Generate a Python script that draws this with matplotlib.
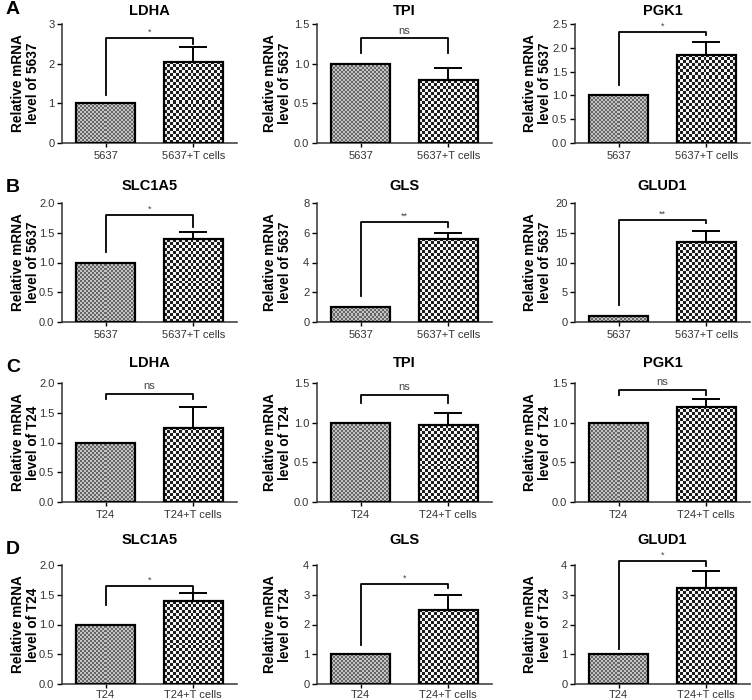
import numpy as np
import matplotlib
matplotlib.use("Agg")
import matplotlib.pyplot as plt
from matplotlib.colors import ListedColormap

plt.rcParams['font.family'] = ['Liberation Sans', 'DejaVu Sans']

# panel data, rows A-D, columns left to right
titles = [["LDHA", "TPI", "PGK1"],
          ["SLC1A5", "GLS", "GLUD1"],
          ["LDHA", "TPI", "PGK1"],
          ["SLC1A5", "GLS", "GLUD1"]]
row_letters = ["A", "B", "C", "D"]
cell_lines = ["5637", "5637", "T24", "T24"]

ctrl = [[1, 1, 1], [1, 1, 1], [1, 1, 1], [1, 1, 1]]
treated = [[2.05, 0.79, 1.85],
           [1.39, 5.58, 13.5],
           [1.25, 0.97, 1.20],
           [1.39, 2.50, 3.22]]
treated_err = [[0.37, 0.15, 0.27],
               [0.12, 0.42, 1.8],
               [0.34, 0.15, 0.10],
               [0.14, 0.50, 0.58]]
ymax = [[3, 1.5, 2.5], [2.0, 8, 20], [2.0, 1.5, 1.5], [2.0, 4, 4]]
ystep = [[1, 0.5, 0.5], [0.5, 2, 5], [0.5, 0.5, 0.5], [0.5, 1, 1]]
signif = [["*", "ns", "*"], ["*", "**", "**"], ["ns", "ns", "ns"], ["*", "*", "*"]]
# bracket: left end, top, right end
brackets = [[[1.21, 2.65, 2.5], [1.13, 1.32, 1.13], [1.22, 2.33, 2.27]],
            [[1.18, 1.80, 1.60], [1.75, 6.7, 6.37], [2.8, 17.1, 16.6]],
            [[1.73, 1.82, 1.73], [1.25, 1.35, 1.25], [1.35, 1.41, 1.35]],
            [[1.32, 1.64, 1.50], [1.30, 3.36, 3.22], [1.19, 4.12, 3.97]]]

W, H = 752, 700
fig = plt.figure(figsize=(W / 100, H / 100), dpi=100)

col_left = [62, 317, 575]
ylab_right = [40, 292, 552]
row_bottom = [143, 322, 502, 684]
title_pad = [6.5, 9.5, 11.5, 15]
ax_w, ax_h = 175, 119
letter_y = [10, 188, 368, 550]
bw = 0.67

cmap1 = ListedColormap(['#666666', '#c4c4c4'])
cmap2 = ListedColormap(['#1e1e1e', '#f6f6f6'])


def checker_fill(ax, xc, val, ytop, cmap, cell):
    # checkerboard pattern inside a bar, cell size in pixels
    wpx = bw * ax_w / 2.0
    hpx = val / ytop * ax_h
    nx = max(1, int(round(wpx / cell)))
    ny = max(1, int(round(hpx / cell)))
    ii, jj = np.indices((ny, nx))
    pat = (ii + jj) % 2
    ax.imshow(pat, extent=(xc - bw / 2, xc + bw / 2, 0, val), aspect='auto',
              interpolation='nearest', cmap=cmap, origin='lower', zorder=2)


for r in range(4):
    fig.text(6 / W, 1 - letter_y[r] / H, row_letters[r], fontsize=14,
             fontweight='bold', ha='left', va='center')
    for c in range(3):
        ax = fig.add_axes([col_left[c] / W, 1 - row_bottom[r] / H, ax_w / W, ax_h / H])
        x = np.array([0, 1])
        vals = [ctrl[r][c], treated[r][c]]
        checker_fill(ax, 0, vals[0], ymax[r][c], cmap1, 2)
        checker_fill(ax, 1, vals[1], ymax[r][c], cmap2, 3)
        ax.bar(x, vals, bw, fill=False, edgecolor='black', linewidth=1.6, zorder=3)
        ax.errorbar(x[1], vals[1], yerr=[[0], [treated_err[r][c]]], fmt='none',
                    ecolor='black', elinewidth=1.4, capsize=10.4, capthick=1.4, zorder=1)

        lo, top, ro = brackets[r][c]
        ax.plot([0, 0, 1, 1], [lo, top, top, ro], color='black', lw=1.3,
                clip_on=False, zorder=4)
        s = signif[r][c]
        ax.annotate(s, (0.5, top), xytext=(0, 2 if s == "ns" else 1),
                    textcoords='offset points', ha='center', va='bottom',
                    fontsize=8 if s == "ns" else 6.5, color='#444444',
                    annotation_clip=False)

        ax.set_xlim(-0.5, 1.5)
        ax.set_ylim(0, ymax[r][c])
        ticks = np.arange(0, ymax[r][c] + 1e-9, ystep[r][c])
        ax.set_yticks(ticks)
        if ystep[r][c] < 1:
            ax.set_yticklabels(["%.1f" % t for t in ticks])
        else:
            ax.set_yticklabels(["%d" % t for t in ticks])
        cl = cell_lines[r]
        ax.set_xticks(x)
        ax.set_xticklabels([cl, cl + "+T cells"])
        ax.tick_params(axis='both', labelsize=8, labelcolor='#333333',
                       length=3.5, width=1, direction='out', pad=2)
        ax.tick_params(axis='x', labelsize=8, length=3, pad=1.5 if r == 3 else 2.5)
        for sp in ['top', 'right']:
            ax.spines[sp].set_visible(False)
        for sp in ['left', 'bottom']:
            ax.spines[sp].set_linewidth(1.1)
            ax.spines[sp].set_color('#333333')

        ax.set_title(titles[r][c], fontsize=10.5, fontweight='bold', pad=title_pad[r])
        ax.set_ylabel("Relative mRNA\nlevel of " + cl, fontsize=9.8,
                      fontweight='bold', linespacing=1.05)
        ax.yaxis.set_label_coords((ylab_right[c] - col_left[c]) / ax_w, 0.5)

fig.savefig("out.png", dpi=100)
